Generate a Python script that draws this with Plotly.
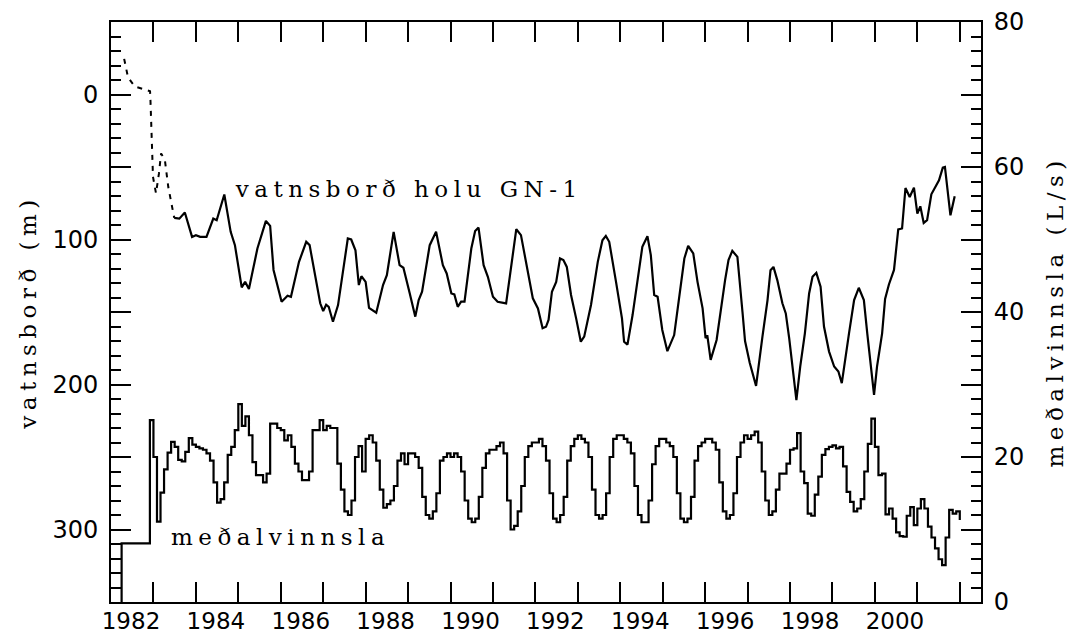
import plotly.graph_objects as go

# ---- water level in well GN-1 (m) ----
early_year = [1982.31, 1982.40, 1982.56, 1982.92, 1982.93, 1982.96, 1982.99, 1983.06,
              1983.13, 1983.18, 1983.27, 1983.35, 1983.44, 1983.49]
early_level = [-24.6, -11.9, -5.5, -2.3, 4.1, 31.7, 56.9, 68.1,
               54.4, 40.6, 45.4, 63.8, 77.6, 85.1]

level_year = [1983.49, 1983.61, 1983.74, 1983.91, 1984.00, 1984.10, 1984.25, 1984.41, 1984.49, 1984.67, 1984.82, 1984.92,
              1985.08, 1985.16, 1985.25, 1985.45, 1985.65, 1985.75, 1985.83,
              1986.02, 1986.16, 1986.24, 1986.43, 1986.60, 1986.68, 1986.93,
              1987.00, 1987.07, 1987.13, 1987.23, 1987.35, 1987.58, 1987.66, 1987.76, 1987.84, 1987.90,
              1988.00, 1988.08, 1988.25, 1988.41, 1988.50, 1988.66, 1988.80, 1988.89,
              1989.04, 1989.17, 1989.25, 1989.33, 1989.51, 1989.66, 1989.82, 1989.91,
              1990.02, 1990.09, 1990.17, 1990.25, 1990.33, 1990.49, 1990.58, 1990.66, 1990.78, 1990.88,
              1991.00, 1991.11, 1991.31, 1991.55, 1991.66, 1991.80, 1991.94,
              1992.06, 1992.17, 1992.25, 1992.31, 1992.39, 1992.49, 1992.58, 1992.66, 1992.74, 1992.84, 1992.96,
              1993.07, 1993.15, 1993.31, 1993.47, 1993.58, 1993.66, 1993.74, 1993.90,
              1994.04, 1994.09, 1994.17, 1994.29, 1994.41, 1994.52, 1994.64, 1994.72, 1994.80, 1994.88, 1994.99,
              1995.11, 1995.27, 1995.39, 1995.51, 1995.60, 1995.72, 1995.82, 1995.94,
              1996.01, 1996.05, 1996.13, 1996.27, 1996.47, 1996.55, 1996.64, 1996.76, 1996.88, 1996.94,
              1997.05, 1997.20, 1997.35, 1997.47, 1997.54, 1997.61, 1997.70, 1997.82, 1997.90, 1997.98,
              1998.15, 1998.24, 1998.35, 1998.45, 1998.53, 1998.62, 1998.72, 1998.80, 1998.92,
              1999.04, 1999.14, 1999.22, 1999.39, 1999.51, 1999.62, 1999.74, 1999.82, 1999.90, 1999.98,
              2000.05, 2000.17, 2000.24, 2000.33, 2000.45, 2000.55, 2000.64, 2000.72, 2000.82, 2000.92,
              2001.00, 2001.07, 2001.15, 2001.23, 2001.33, 2001.43, 2001.51, 2001.60, 2001.65, 2001.78, 2001.88]
level_m = [85.1, 85.6, 81.4, 98.2, 97.0, 98.2, 98.2, 85.6, 86.7, 69.0, 94.7, 103.9,
           133.0, 129.2, 134.2, 106.2, 87.2, 90.6, 121.0,
           143.0, 138.8, 139.5, 115.4, 101.6, 103.9, 144.0,
           149.3, 145.0, 146.4, 156.7, 145.2, 99.3, 100.0, 107.4, 131.4, 125.3,
           129.2, 147.1, 150.5, 131.4, 124.6, 94.7, 117.7, 119.5,
           137.2, 153.2, 141.8, 136.0, 103.9, 94.7, 117.7, 123.4,
           137.2, 137.9, 146.4, 142.9, 142.9, 106.2, 94.1, 91.8, 117.7, 125.7,
           139.5, 142.9, 144.1, 92.9, 97.0, 117.7, 140.6,
           147.5, 161.2, 160.2, 155.5, 136.0, 129.2, 113.1, 114.2, 118.9, 138.3, 154.4,
           170.5, 167.0, 145.2, 115.4, 100.5, 97.5, 101.6, 129.2,
           154.4, 170.5, 172.5, 152.1, 125.7, 105.1, 97.7, 110.8, 138.3, 139.5, 162.4,
           177.0, 165.9, 138.3, 113.1, 104.4, 109.6, 129.2, 147.5,
           168.0, 166.0, 183.0, 169.3, 128.0, 114.2, 107.8, 112.0, 150.0, 170.0,
           185.0, 201.0, 167.0, 141.8, 121.2, 118.9, 128.0, 144.0, 151.0, 168.0,
           210.7, 187.6, 164.7, 137.2, 125.7, 123.0, 132.6, 160.0, 177.3,
           187.6, 191.0, 199.1, 164.7, 141.8, 133.3, 141.8, 164.7, 187.6, 207.2,
           187.6, 164.7, 141.0, 131.0, 121.0, 93.1, 92.4, 64.5, 70.7, 64.2,
           82.1, 77.1, 88.6, 86.7, 68.8, 63.3, 59.2, 50.5, 50.0, 83.3, 70.2]

# ---- monthly mean production (L/s), April 1982 .. December 2001 ----
prod_start = 1982.25
prod_end_year = 2002.0
prod_end_value = 11.3
production = [
    8.1, 8.1, 8.1, 8.1, 8.1, 8.1, 8.1, 8.1, 25.1,                      # Apr-Dec 1982
    20.0, 11.1, 15.1, 18.3, 20.6, 22.1, 21.4, 19.6, 19.4, 20.7, 22.6, 21.7,  # 1983
    21.4, 21.2, 21.0, 20.5, 19.5, 16.5, 13.7, 14.2, 16.5, 20.3, 21.4, 23.7,  # 1984
    27.3, 24.3, 25.6, 23.0, 19.3, 17.5, 17.5, 16.5, 17.7, 24.6, 24.6, 24.0,  # 1985
    23.7, 22.3, 23.0, 21.4, 19.1, 18.0, 16.8, 16.8, 18.0, 23.7, 23.7, 25.1,  # 1986
    23.7, 24.3, 24.0, 24.0, 19.1, 15.5, 12.5, 12.0, 14.0, 20.0, 21.5, 18.0,  # 1987
    22.5, 23.0, 22.0, 19.5, 15.5, 13.0, 13.5, 14.0, 16.0, 19.5, 20.5, 19.0,  # 1988
    20.5, 20.5, 20.0, 18.5, 14.5, 12.0, 11.5, 12.5, 15.0, 19.5, 20.0, 20.5,  # 1989
    20.0, 20.5, 20.0, 18.0, 14.0, 11.5, 11.0, 11.5, 14.5, 18.5, 20.5, 21.0,  # 1990
    21.0, 21.5, 22.0, 20.5, 14.0, 10.0, 10.5, 12.5, 16.0, 20.0, 21.5, 22.0,  # 1991
    22.0, 22.5, 21.5, 19.5, 15.0, 11.5, 11.0, 12.0, 14.5, 19.5, 21.5, 22.5,  # 1992
    23.0, 22.5, 22.0, 20.0, 15.5, 12.0, 11.5, 12.0, 15.0, 20.0, 22.5, 23.0,  # 1993
    23.0, 22.5, 22.0, 20.5, 16.0, 12.0, 11.0, 11.0, 14.0, 19.0, 21.5, 22.5,  # 1994
    22.5, 22.0, 21.5, 20.0, 15.0, 11.5, 11.0, 11.5, 14.5, 19.5, 21.5, 22.0,  # 1995
    22.5, 22.5, 22.0, 21.0, 16.5, 12.5, 11.5, 12.0, 15.0, 20.0, 22.0, 23.0,  # 1996
    22.5, 23.0, 23.5, 22.0, 18.0, 14.0, 12.0, 12.5, 15.5, 17.7, 17.7, 19.1,  # 1997
    21.0, 21.2, 23.3, 18.0, 16.4, 12.2, 11.9, 14.8, 17.3, 20.3, 21.1, 21.4,  # 1998
    21.6, 21.2, 21.4, 18.7, 15.2, 13.8, 12.5, 12.9, 14.2, 18.0, 21.8, 25.3,  # 1999
    21.4, 17.5, 17.7, 12.1, 12.9, 11.5, 9.6, 9.1, 9.0, 11.9, 13.1, 10.6,     # 2000
    12.9, 14.2, 12.9, 10.4, 8.9, 7.4, 5.9, 5.1, 8.9, 12.7, 12.2, 12.5,       # 2001
]
prod_year = [prod_start + i / 12.0 for i in range(len(production))]

# ---- axis ticks ----
year_ticks = list(range(1982, 2003, 2))
year_labels = [str(y) if y <= 2000 else "" for y in year_ticks]
level_ticks = list(range(-50, 351, 50))
level_labels = [str(v) if v % 100 == 0 and 0 <= v <= 300 else "" for v in level_ticks]
prod_ticks = list(range(0, 81, 10))
prod_labels = [str(v) if v % 20 == 0 else "" for v in prod_ticks]

label_font = "DejaVu Serif"
tick_font = dict(family="DejaVu Sans", size=24, color="black")
x_tick_font = dict(family="DejaVu Sans", size=23, color="black")

fig = go.Figure()
fig.add_trace(go.Scatter(x=early_year, y=early_level, mode="lines",
                         line=dict(color="black", width=2, dash="5px,6px"),
                         yaxis="y", showlegend=False, name="vatnsborð (eldra)"))
fig.add_trace(go.Scatter(x=level_year, y=level_m, mode="lines",
                         line=dict(color="black", width=2.2),
                         yaxis="y", showlegend=False, name="vatnsborð holu GN-1"))
fig.add_trace(go.Scatter(x=[prod_start] + prod_year + [prod_end_year],
                         y=[0] + production + [prod_end_value],
                         mode="lines", line=dict(color="black", width=2.2, shape="hv"),
                         yaxis="y2", showlegend=False, name="meðalvinnsla"))

axis_common = dict(showline=True, linecolor="black", linewidth=2, showgrid=False,
                   zeroline=False, ticks="inside", tickcolor="black", tickwidth=2)

fig.update_layout(
    width=1074, height=637, template="none",
    paper_bgcolor="white", plot_bgcolor="white",
    margin=dict(l=111, r=93, t=22, b=35, pad=0),
    xaxis=dict(range=[1982, 2002.5], tickmode="array", tickvals=year_ticks, ticktext=year_labels,
               ticklen=20, mirror="allticks", ticklabelshift=20, ticklabelstandoff=-3,
               tickfont=x_tick_font,
               minor=dict(tickmode="linear", tick0=1982, dtick=1, ticks="inside",
                          ticklen=10, tickwidth=2, tickcolor="black"),
               **axis_common),
    yaxis=dict(range=[350, -50], tickmode="array", tickvals=level_ticks, ticktext=level_labels,
               ticklen=20, side="left", ticklabelstandoff=6, tickfont=tick_font,
               minor=dict(tickmode="linear", tick0=0, dtick=10, ticks="inside",
                          ticklen=10, tickwidth=2, tickcolor="black"),
               **axis_common),
    yaxis2=dict(range=[0, 80], overlaying="y", side="right", anchor="x",
                tickmode="array", tickvals=prod_ticks, ticktext=prod_labels,
                ticklen=20, ticklabelstandoff=6, tickfont=tick_font,
                minor=dict(tickmode="linear", tick0=0, dtick=2, ticks="inside",
                           ticklen=10, tickwidth=2, tickcolor="black"),
                **axis_common),
    annotations=[
        dict(text="vatnsborð holu GN-1", x=1989.01, y=65, xref="x", yref="y",
             xanchor="center", yanchor="middle", showarrow=False,
             font=dict(family=label_font, size=23, color="black")),
        dict(text="meðalvinnsla", x=1986.0, y=305, xref="x", yref="y",
             xanchor="center", yanchor="middle", showarrow=False,
             font=dict(family=label_font, size=23, color="black")),
        dict(text="vatnsborð (m)", x=-0.0954, y=0.5, xref="paper", yref="paper",
             textangle=-90, xanchor="center", yanchor="middle", showarrow=False,
             font=dict(family=label_font, size=23, color="black")),
        dict(text="meðalvinnsla (L/s)", x=1.0851, y=0.5, xref="paper", yref="paper",
             textangle=-90, xanchor="center", yanchor="middle", showarrow=False,
             font=dict(family=label_font, size=23, color="black")),
    ],
)

spacing_js = """
var gd = document.getElementById('{plot_id}');
gd.querySelectorAll('.annotation-text').forEach(function(t){ t.style.letterSpacing = '5.5px'; });
"""

fig.write_html("out.html", post_script=spacing_js)
